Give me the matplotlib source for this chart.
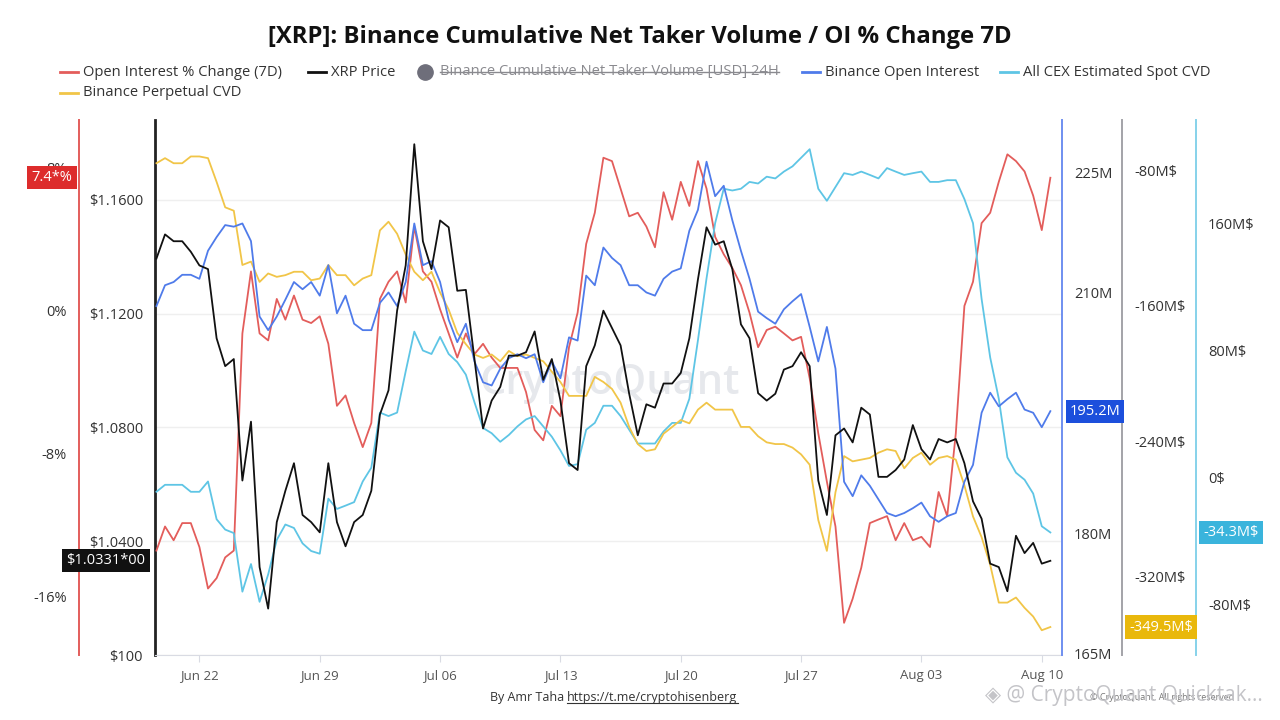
import numpy as np
import pandas as pd
import matplotlib
matplotlib.use("Agg")
import matplotlib.pyplot as plt
import matplotlib.dates as mdates
from matplotlib.transforms import blended_transform_factory as btf
from matplotlib.lines import Line2D
from matplotlib.ticker import FixedLocator, FixedFormatter

plt.rcParams['font.family'] = ['Open Sans', 'DejaVu Sans']

# ---------------- data (12-hourly, Jun 19 12:00 -> Aug 10 12:00) ----------------
dates = pd.date_range('2025-06-19 12:00', periods=105, freq='12h')

oi_pct_change = [
    -13.46, -12.11, -12.88, -11.92, -11.92, -13.26, -15.58, -15.0, -13.84, -13.46, -1.31, 2.16, -1.31, -1.70, 0.62, -0.54, 0.81, -0.54, -0.73,
    -0.35, -1.89, -5.36, -4.78, -6.32, -7.67, -6.32, 0.62, 1.58, 2.16, 0.42, 4.67, 2.16, 1.58, 0.04, -1.31, -2.66,
    -1.31, -2.47, -1.89, -2.66, -3.24, -3.24, -3.24, -4.59, -6.71, -7.29, -5.36, -5.94, -2.08, -0.15, 3.70, 5.44, 8.52,
    8.33, 6.79, 5.24, 5.44, 4.67, 3.51, 6.59, 5.05, 7.17, 5.82, 8.33, 6.79, 4.09, 3.12, 2.35, 1.39, -0.15, -2.08,
    -1.12, -0.93, -1.31, -1.70, -1.50, -3.82, -6.90, -9.60, -12.11, -17.5, -16.15, -14.42, -11.92, -11.72, -11.53, -12.88, -11.92,
    -12.88, -12.69, -13.26, -10.18, -11.53, -6.90, 0.23, 1.58, 4.86, 5.44, 7.17, 8.71, 8.33, 7.75, 6.40, 4.47, 7.4,
]

xrp_price = [
    1.1393, 1.1478, 1.1454, 1.1454, 1.1417, 1.1369, 1.1356, 1.1113, 1.1015, 1.1040, 1.0613, 1.0820, 1.0309, 1.0163, 1.0467, 1.0577, 1.0674, 1.0492, 1.0467,
    1.0431, 1.0674, 1.0467, 1.0382, 1.0467, 1.0492, 1.0577, 1.0845, 1.0930, 1.1210, 1.1369, 1.1795, 1.1454, 1.1356, 1.1527, 1.1503, 1.1280,
    1.1283, 1.1040, 1.0796, 1.0894, 1.0942, 1.1052, 1.1052, 1.1064, 1.1137, 1.0967, 1.1040, 1.0894, 1.0674, 1.0650, 1.1015, 1.1088, 1.1210,
    1.1149, 1.1088, 1.0918, 1.0772, 1.0881, 1.0869, 1.0954, 1.0954, 1.0991, 1.1113, 1.1320, 1.1503, 1.1442, 1.1454, 1.1356, 1.1162, 1.1113, 1.0920,
    1.0894, 1.0918, 1.1003, 1.1015, 1.1064, 1.1015, 1.0613, 1.0492, 1.0772, 1.0796, 1.0747, 1.0869, 1.0845, 1.0626, 1.0626, 1.0650, 1.0687,
    1.0808, 1.0723, 1.0687, 1.0759, 1.0747, 1.0759, 1.0674, 1.0540, 1.0479, 1.0321, 1.0309, 1.0224, 1.0419, 1.0358, 1.0394, 1.0321, 1.0331,
]

binance_oi_m = [
    208.3, 210.9, 211.3, 212.2, 212.2, 211.7, 215.2, 216.9, 218.4, 218.2, 218.6, 216.4, 207.0, 205.3, 207.0, 209.1, 211.3, 210.4, 211.3,
    209.6, 213.4, 207.4, 209.6, 206.1, 205.3, 205.3, 208.7, 210.0, 208.3, 211.3, 218.6, 213.4, 213.9, 211.3, 206.6, 203.8,
    206.1, 201.4, 198.8, 198.4, 200.5, 201.8, 202.3, 201.8, 202.3, 198.8, 201.4, 199.3, 204.4, 204.0, 212.1, 210.9, 215.6,
    214.3, 213.4, 210.9, 210.9, 210.0, 209.6, 211.7, 212.6, 213.0, 217.7, 220.3, 226.3, 222.0, 223.3, 219.0, 215.2, 211.7, 207.6,
    206.8, 206.1, 207.9, 208.9, 209.8, 205.7, 201.4, 205.7, 200.5, 186.4, 184.6, 187.2, 185.9, 184.2, 182.5, 182.1, 182.5,
    183.1, 183.8, 182.1, 181.4, 182.1, 182.5, 186.4, 188.5, 195.0, 197.5, 195.8, 196.7, 197.5, 195.4, 195.0, 193.2, 195.2,
]

spot_cvd_m = [
    -8.7, -4.3, -4.3, -4.3, -8.7, -8.7, -2.2, -26.0, -32.5, -34.7, -71.6, -54.2, -78.0, -60.7, -39.0, -29.3, -31.5, -41.2, -46.0,
    -47.7, -13.0, -19.5, -17.4, -15.2, -2.2, 6.5, 41.2, 39.0, 41.2, 67.2, 92.2, 80.3, 78.1, 88.9, 78.1, 73.0,
    65.1, 47.7, 31.5, 28.2, 22.8, 27.1, 32.5, 36.9, 39.0, 32.5, 26.0, 17.4, 7.6, 8.7, 30.4, 34.7, 45.5,
    45.5, 39.0, 30.4, 21.7, 21.7, 21.7, 29.3, 34.7, 34.7, 49.9, 86.8, 125.8, 160.5, 182.2, 181.1, 182.2, 186.5, 185.5,
    189.8, 188.7, 193.0, 196.3, 201.7, 207.1, 182.2, 174.6, 183.3, 192.0, 190.9, 193.0, 190.9, 188.7, 195.2, 193.0, 190.9,
    192.0, 193.0, 186.5, 186.5, 187.6, 187.6, 175.7, 160.5, 112.8, 75.9, 49.9, 13.0, 3.3, -1.1, -9.8, -30.4, -34.3,
]

perp_cvd_m = [
    -76, -73, -76, -76, -72, -72, -73, -87, -102, -104, -136, -134, -146, -141, -143, -142, -140, -140, -145,
    -144, -136, -142, -142, -148, -144, -142, -115.6, -110.5, -117.6, -129.8, -140, -145, -140, -152.2, -162.3, -176,
    -182.7, -188.8, -190.8, -188.8, -192.8, -186.7, -189.8, -188.8, -190.8, -192.8, -198.9, -205.0, -213.2, -213.2, -213.2, -202.0, -205.0,
    -209.1, -217.2, -231.5, -241.6, -245.7, -244.7, -235.5, -231.5, -227.4, -229.4, -221.3, -217.2, -221.3, -221.3, -221.3, -231.5, -231.5, -237,
    -240.6, -241.6, -241.6, -243.7, -247.7, -253.8, -286.4, -304.6, -270.0, -248.7, -251.8, -250.8, -249.8, -246.7, -244.7, -245.7, -255.9,
    -249.8, -246.7, -253.8, -249.8, -248.7, -250.8, -266.0, -284.3, -296.5, -312.8, -335.1, -335.1, -332.1, -338.2, -343.3, -351.4, -349.5,
]

price_ticks = [1.00, 1.04, 1.08, 1.12, 1.16]
price_tick_labels = ['$100', '$1.0400', '$1.0800', '$1.1200', '$1.1600']
pct_ticks = [-16, -8, 0, 8]
pct_tick_labels = ['-16%', '-8%', '0%', '8%']
oi_ticks = [165, 180, 210, 225]
oi_tick_labels = ['165M', '180M', '210M', '225M']
perp_ticks = [-320, -240, -160, -80]
perp_tick_labels = ['-320M$', '-240M$', '-160M$', '-80M$']
spot_ticks = [-80, 0, 80, 160]
spot_tick_labels = ['-80M$', '0$', '80M$', '160M$']
date_ticks = pd.date_range('2025-06-22', periods=8, freq='7D')

last_labels = {'pct': '7.4*%', 'price': '$1.0331*00', 'oi': '195.2M', 'perp': '-349.5M$', 'spot': '-34.3M$'}

# ---------------- style ----------------
C_RED = '#e35d5b'
C_BLACK = '#111111'
C_BLUE = '#4f7bea'
C_CYAN = '#5ec5e5'
C_YELLOW = '#f1c548'
TXT = '#333333'

W, H = 1280, 720
fig = plt.figure(figsize=(12.8, 7.2), dpi=100)
L, R, T, B = 155, 1062, 120, 655
ax = fig.add_axes([L / W, 1 - B / H, (R - L) / W, (B - T) / H])


def fx(px):
    return (px - L) / (R - L)


xmin = pd.Timestamp('2025-06-19 10:00')
xmax = pd.Timestamp('2025-08-11 04:15')

# main axis: price scale + grid
ax.set_xlim(xmin, xmax)
ax.set_ylim(1.0, 1.188)
ax.yaxis.set_major_locator(FixedLocator(price_ticks))
ax.yaxis.set_major_formatter(FixedFormatter(price_tick_labels))
ax.grid(axis='y', color='#efefef', lw=1)
ax.set_axisbelow(True)
for s in ['top', 'right']:
    ax.spines[s].set_visible(False)
ax.spines['left'].set_color('#222222')
ax.spines['left'].set_linewidth(2)
ax.spines['bottom'].set_color('#d9dbe3')
ax.tick_params(axis='y', length=0, pad=8.6, labelsize=10.5, labelcolor=TXT)
ax.xaxis.set_major_locator(FixedLocator(mdates.date2num(date_ticks)))
ax.xaxis.set_major_formatter(mdates.DateFormatter('%b %d'))
ax.tick_params(axis='x', length=5, color='#d9dbe3', pad=5, labelsize=9.5, labelcolor='#555555')
ax.text(fx(610), (B - 383) / (B - T), 'CryptoQuant', transform=ax.transAxes, ha='center', va='center',
        fontsize=30, color='#e6e8ec', fontweight='semibold', zorder=0)


def twin(spine_side, pos, color, lw=1.4):
    a = ax.twinx()
    a.set_xlim(xmin, xmax)
    for s in ['top', 'bottom', 'left', 'right']:
        a.spines[s].set_visible(False)
    a.spines[spine_side].set_visible(True)
    a.spines[spine_side].set_position(('axes', pos))
    a.spines[spine_side].set_color(color)
    a.spines[spine_side].set_linewidth(lw)
    if spine_side == 'left':
        a.yaxis.set_ticks_position('left')
        a.yaxis.set_label_position('left')
    else:
        a.yaxis.set_ticks_position('right')
    a.tick_params(axis='y', length=0, pad=8.6, labelsize=10.5, labelcolor=TXT)
    return a


ax_pct = twin('left', fx(79), C_RED)
ax_pct.set_ylim(-19.3, 10.63)
ax_pct.yaxis.set_major_locator(FixedLocator(pct_ticks))
ax_pct.yaxis.set_major_formatter(FixedFormatter(pct_tick_labels))

ax_spot = twin('right', fx(1196), '#86d2ea')
ax_spot.set_ylim(-111.5, 225.5)
ax_spot.yaxis.set_major_locator(FixedLocator(spot_ticks))
ax_spot.yaxis.set_major_formatter(FixedFormatter(spot_tick_labels))

ax_perp = twin('right', fx(1122), '#a3a3a8')
ax_perp.set_ylim(-366, -50.5)
ax_perp.yaxis.set_major_locator(FixedLocator(perp_ticks))
ax_perp.yaxis.set_major_formatter(FixedFormatter(perp_tick_labels))

ax_oi = twin('right', 1.0, '#6f8ff0')
ax_oi.set_ylim(164.8, 231.5)
ax_oi.yaxis.set_major_locator(FixedLocator(oi_ticks))
ax_oi.yaxis.set_major_formatter(FixedFormatter(oi_tick_labels))

ax_px = ax.twinx()
ax_px.set_xlim(xmin, xmax)
ax_px.set_ylim(ax.get_ylim())
ax_px.axis('off')

lw = 1.3
ax_pct.plot(dates, oi_pct_change, color=C_RED, lw=lw)
ax_spot.plot(dates, spot_cvd_m, color=C_CYAN, lw=lw)
ax_perp.plot(dates, perp_cvd_m, color=C_YELLOW, lw=lw)
ax_oi.plot(dates, binance_oi_m, color=C_BLUE, lw=lw)
ax_px.plot(dates, xrp_price, color=C_BLACK, lw=lw)


# value tags
def tag(target, xpx, yval, text, color):
    ax_px.text(fx(xpx), yval, text, transform=btf(ax.transAxes, target.transData), ha='center', va='center',
               color='white', fontsize=10.5, clip_on=False, zorder=20,
               bbox=dict(boxstyle='square,pad=0.28', fc=color, ec='none'))


tag(ax_pct, 52, oi_pct_change[-1], last_labels['pct'], '#dd2c2c')
tag(ax, 106, xrp_price[-1], last_labels['price'], '#111111')
tag(ax_oi, 1095, binance_oi_m[-1], last_labels['oi'], '#1c4fdc')
tag(ax_perp, 1161, perp_cvd_m[-1], last_labels['perp'], '#e9b80c')
tag(ax_spot, 1231, spot_cvd_m[-1], last_labels['spot'], '#3ab4dc')

# ---------------- title & legend ----------------
fig.text(0.5, 1 - 37 / H, '[XRP]: Binance Cumulative Net Taker Volume / OI % Change 7D', ha='center', va='center',
         fontsize=17.2, fontweight='bold', color='#111111')


def leg_line(x0, y, color, label):
    fig.add_artist(Line2D([x0 / W, (x0 + 18) / W], [1 - y / H, 1 - y / H], transform=fig.transFigure, color=color, lw=2))
    return fig.text((x0 + 23) / W, 1 - y / H, label, ha='left', va='center', fontsize=10.6, color=TXT)


leg_line(60, 72, C_RED, 'Open Interest % Change (7D)')
leg_line(308, 72, C_BLACK, 'XRP Price')
fig.add_artist(Line2D([425 / W], [1 - 72 / H], transform=fig.transFigure, marker='o', ms=11, color='#6e6e7a', lw=0))
hidden = fig.text(440 / W, 1 - 72 / H, 'Binance Cumulative Net Taker Volume [USD] 24H', ha='left', va='center',
                  fontsize=10.6, color='#8a8a8f')
leg_line(802, 72, C_BLUE, 'Binance Open Interest')
leg_line(1000, 72, C_CYAN, 'All CEX Estimated Spot CVD')
leg_line(60, 93, C_YELLOW, 'Binance Perpetual CVD')

# ---------------- footer ----------------
t1 = fig.text(490 / W, 1 - 697 / H, 'By Amr Taha ', ha='left', va='center', fontsize=9, color=TXT)
fig.canvas.draw()
rend = fig.canvas.get_renderer()
bb1 = t1.get_window_extent(rend)
t2 = fig.text(bb1.x1 / W, 1 - 697 / H, 'https://t.me/cryptohisenberg', ha='left', va='center', fontsize=9, color=TXT)
fig.text(1090 / W, 1 - 697 / H, '© CryptoQuant. All rights reserved', ha='left', va='center', fontsize=6.5, color='#777777')
fig.text(985 / W, 1 - 696 / H, '◈ @ CryptoQuant Quicktak...', ha='left', va='center', fontsize=15,
         color='#c4c4c8', family=['Open Sans', 'DejaVu Sans'])
fig.canvas.draw()
bb2 = t2.get_window_extent(rend)
fig.add_artist(Line2D([bb2.x0 / W, bb2.x1 / W], [(bb2.y0 + 1) / H, (bb2.y0 + 1) / H], transform=fig.transFigure,
                      color=TXT, lw=0.8))
bbh = hidden.get_window_extent(rend)
ymid = (bbh.y0 + bbh.y1) / 2 / H
fig.add_artist(Line2D([bbh.x0 / W, bbh.x1 / W], [ymid, ymid], transform=fig.transFigure, color='#8a8a8f', lw=1))

fig.savefig('out.png', dpi=100)
